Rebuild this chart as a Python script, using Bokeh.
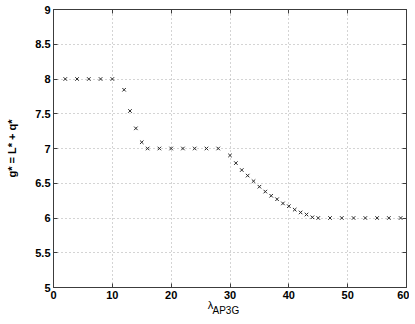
from bokeh.plotting import figure
from bokeh.models import (LinearAxis, FixedTicker, NumeralTickFormatter,
                          CustomJSTickFormatter, ColumnDataSource)
from bokeh.embed import file_html
from bokeh.resources import INLINE

# data
lam = [2, 4, 6, 8, 10, 12, 13, 14, 15, 16, 18, 20, 22, 24, 26, 28,
       30, 31, 32, 33, 34, 35, 36, 37, 38, 39, 40, 41, 42, 43, 44, 45,
       47, 49, 51, 53, 55, 57, 59]
g_star = [8, 8, 8, 8, 8, 7.845, 7.54, 7.29, 7.09, 7.0, 7, 7, 7, 7, 7, 7,
          6.90, 6.79, 6.69, 6.61, 6.53, 6.45, 6.38, 6.32, 6.27, 6.21, 6.17,
          6.12, 6.08, 6.05, 6.01, 6.0,
          6, 6, 6, 6, 6, 6, 6]
x_ticks = [0, 10, 20, 30, 40, 50, 60]
y_ticks = [5, 5.5, 6, 6.5, 7, 7.5, 8, 8.5, 9]
x_label_main = "λ"
x_label_sub = "AP3G"
y_label = "g* = L* + q*"

FONT = "Liberation Sans"
AX = "#3c3c3c"

p = figure(width=409, height=324, x_range=(0, 60), y_range=(5, 9),
           output_backend="svg", toolbar_location=None,
           min_border_left=53, min_border_right=3, min_border_top=9,
           min_border_bottom=37)
p.outline_line_color = AX
p.outline_line_width = 1
p.background_fill_color = "white"
p.border_fill_color = "white"

src = ColumnDataSource(dict(x=lam, y=g_star))
p.scatter("x", "y", source=src, marker="x", size=5, line_color="#2a2a2a",
          line_width=1)

def style(ax, ticks, labels=True):
    ax.ticker = FixedTicker(ticks=ticks)
    ax.major_tick_in = 4
    ax.major_tick_out = 0
    ax.minor_tick_line_color = None
    ax.axis_line_color = AX
    ax.major_tick_line_color = AX
    ax.major_label_text_font = FONT
    ax.major_label_text_font_style = "bold"
    ax.major_label_text_font_size = "11px"
    ax.major_label_text_color = "black"
    ax.major_label_standoff = 3
    if not labels:
        ax.formatter = CustomJSTickFormatter(code="return ''")
        ax.major_label_standoff = 0

style(p.xaxis[0], x_ticks)
style(p.yaxis[0], y_ticks)
p.yaxis[0].formatter = NumeralTickFormatter(format="0.[0]")
p.xaxis[0].formatter = NumeralTickFormatter(format="0")

top = LinearAxis()
style(top, x_ticks, labels=False)
p.add_layout(top, "above")
right = LinearAxis()
style(right, y_ticks, labels=False)
p.add_layout(right, "right")

p.yaxis[0].axis_label = y_label
p.yaxis[0].axis_label_text_font = FONT
p.yaxis[0].axis_label_text_font_style = "bold"
p.yaxis[0].axis_label_text_font_size = "11px"
p.yaxis[0].axis_label_text_color = "black"
p.yaxis[0].axis_label_standoff = 14

for grid in (p.xgrid[0], p.ygrid[0]):
    grid.grid_line_color = "#a8a8a8"
    grid.grid_line_dash = "1 3"
    grid.grid_line_width = 1
p.xgrid[0].ticker = FixedTicker(ticks=x_ticks)
p.ygrid[0].ticker = FixedTicker(ticks=y_ticks)

# x-axis title "λ" with subscript "AP3G", as two label-only axes below
def text_axis(text, pos, size, standoff):
    ax = LinearAxis(ticker=FixedTicker(ticks=[pos]),
                    formatter=CustomJSTickFormatter(code="return %r" % text))
    ax.axis_line_color = None
    ax.major_tick_line_color = None
    ax.minor_tick_line_color = None
    ax.major_tick_in = 0
    ax.major_tick_out = 0
    ax.major_label_text_font = FONT
    ax.major_label_text_font_size = size
    ax.major_label_text_color = "black"
    ax.major_label_standoff = standoff
    p.add_layout(ax, "below")

text_axis(x_label_main, 26.7, "11px", -3)
text_axis(x_label_sub, 29.3, "10px", -9)

open("out.html", "w").write(file_html(p, INLINE))
